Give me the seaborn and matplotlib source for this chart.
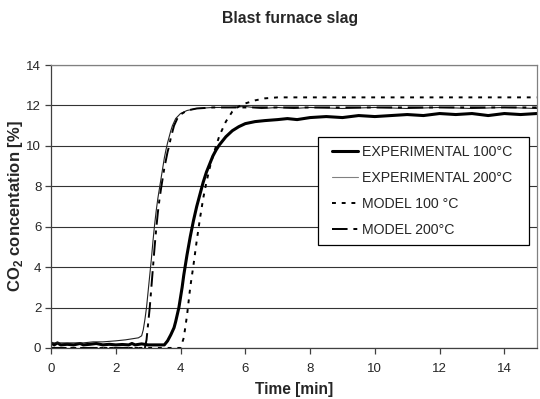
import matplotlib
matplotlib.use("Agg")
import matplotlib.pyplot as plt
from matplotlib.legend_handler import HandlerLine2D
import seaborn as sns
import pandas as pd

# Experimental breakthrough curve, 100 °C
exp100_time = [0.0, 0.1, 0.2, 0.3, 0.5, 0.7, 0.9, 1.0, 1.2, 1.4, 1.6, 1.8, 2.0, 2.2, 2.4, 2.5,
               2.6, 2.8, 3.0, 3.2, 3.4, 3.5, 3.6, 3.7, 3.8, 3.85, 3.9, 3.95, 4.0, 4.05, 4.1, 4.15,
               4.2, 4.3, 4.4, 4.5, 4.6, 4.7, 4.8, 4.9, 5.0, 5.1, 5.2, 5.4, 5.6, 5.8, 6.0, 6.3,
               6.6, 7.0, 7.3, 7.6, 8.0, 8.5, 9.0, 9.5, 10.0, 10.5, 11.0, 11.5, 12.0, 12.5, 13.0,
               13.5, 14.0, 14.5, 15.0]
exp100_conc = [0.25, 0.15, 0.25, 0.15, 0.18, 0.15, 0.22, 0.15, 0.18, 0.22, 0.15, 0.18, 0.15, 0.17, 0.15, 0.22,
               0.15, 0.2, 0.15, 0.15, 0.15, 0.15, 0.35, 0.65, 1.0, 1.3, 1.65, 2.0, 2.5, 3.0, 3.6, 4.1,
               4.6, 5.5, 6.3, 7.0, 7.6, 8.2, 8.7, 9.1, 9.5, 9.8, 10.05, 10.45, 10.75, 10.95, 11.1, 11.2,
               11.25, 11.3, 11.35, 11.3, 11.4, 11.45, 11.4, 11.5, 11.45, 11.5, 11.55, 11.5, 11.6, 11.55, 11.6,
               11.5, 11.6, 11.55, 11.6]

# Experimental breakthrough curve, 200 °C
exp200_time = [0.0, 0.3, 0.6, 1.0, 1.3, 1.6, 2.0, 2.3, 2.5, 2.7, 2.8, 2.85, 2.9, 2.95, 3.0, 3.05,
               3.1, 3.15, 3.2, 3.25, 3.3, 3.35, 3.4, 3.45, 3.5, 3.55, 3.6, 3.65, 3.7, 3.75, 3.85,
               4.0, 4.2, 4.5, 5.0, 5.5, 6.0, 6.5, 7.0, 7.5, 8.0, 9.0, 10.0, 11.0, 12.0, 13.0, 14.0, 15.0]
exp200_conc = [0.25, 0.25, 0.25, 0.25, 0.3, 0.3, 0.35, 0.4, 0.45, 0.5, 0.6, 0.9, 1.4, 2.0, 2.8, 3.6,
               4.4, 5.3, 6.1, 6.8, 7.4, 7.9, 8.4, 8.9, 9.4, 9.8, 10.15, 10.45, 10.75, 11.0, 11.35,
               11.6, 11.75, 11.85, 11.9, 11.9, 11.95, 11.85, 11.9, 11.85, 11.9, 11.85, 11.9, 11.85, 11.9,
               11.85, 11.9, 11.85]

# Model curve, 100 °C
mod100_time = [0.0, 4.0, 4.1, 4.2, 4.3, 4.4, 4.5, 4.6, 4.7, 4.8, 4.9, 5.0, 5.1, 5.2, 5.4, 5.6,
               5.8, 6.0, 6.3, 6.6, 7.0, 8.0, 10.0, 15.0]
mod100_conc = [0.0, 0.0, 0.5, 1.6, 3.0, 4.1, 5.3, 6.4, 7.4, 8.2, 8.9, 9.5, 10.0, 10.5, 11.2, 11.7,
               11.95, 12.1, 12.25, 12.35, 12.4, 12.4, 12.4, 12.4]

# Model curve, 200 °C
mod200_time = [0.0, 2.9, 2.95, 3.0, 3.05, 3.1, 3.15, 3.2, 3.25, 3.3, 3.35, 3.4, 3.45, 3.5, 3.55, 3.6,
               3.65, 3.7, 3.75, 3.8, 3.9, 4.0, 4.2, 4.5, 5.0, 6.0, 8.0, 15.0]
mod200_conc = [0.0, 0.0, 0.4, 1.2, 2.0, 3.0, 4.0, 5.0, 5.9, 6.7, 7.35, 7.9, 8.4, 8.9, 9.3, 9.7,
               10.0, 10.4, 10.7, 11.0, 11.35, 11.55, 11.75, 11.85, 11.9, 11.9, 11.9, 11.9]

labels = ["EXPERIMENTAL 100°C", "EXPERIMENTAL 200°C", "MODEL 100 °C", "MODEL 200°C"]

frames = []
for lab, t, c in zip(labels,
                     [exp100_time, exp200_time, mod100_time, mod200_time],
                     [exp100_conc, exp200_conc, mod100_conc, mod200_conc]):
    frames.append(pd.DataFrame({"time": t, "conc": c, "series": lab}))
df = pd.concat(frames, ignore_index=True)

sns.set_style("white")
plt.rcParams["font.family"] = ["Liberation Sans", "DejaVu Sans"]
plt.rcParams["mathtext.fontset"] = "custom"
plt.rcParams["mathtext.rm"] = "Liberation Sans"
plt.rcParams["mathtext.bf"] = "Liberation Sans:bold"

fig = plt.figure(figsize=(5.40, 3.99), dpi=100)
ax = fig.add_axes([0.0944, 0.128, 0.8996, 0.709])

styles = {
    labels[0]: dict(color="black", linewidth=2.2, linestyle="-"),
    labels[1]: dict(color="#222222", linewidth=0.8, linestyle="-"),
    labels[2]: dict(color="black", linewidth=1.4, linestyle=(0, (2, 3))),
    labels[3]: dict(color="black", linewidth=1.4, linestyle=(0, (8, 3, 2, 3))),
}

for lab in labels:
    sub = df[df["series"] == lab]
    sns.lineplot(data=sub, x="time", y="conc", ax=ax, label=lab,
                 estimator=None, sort=False, **styles[lab])

ax.set_xlim(0, 15)
ax.set_ylim(0, 14)
ax.set_xticks(range(0, 15, 2))
ax.set_yticks(range(0, 15, 2))
ax.yaxis.grid(True, color="#333333", linewidth=0.8)
ax.xaxis.grid(False)
ax.set_axisbelow(True)

for side in ["top", "right"]:
    ax.spines[side].set_color("#808080")
    ax.spines[side].set_linewidth(0.9)
for side in ["left", "bottom"]:
    ax.spines[side].set_color("#404040")
    ax.spines[side].set_linewidth(0.9)

ax.tick_params(axis="both", direction="out", length=4, width=0.9, color="#404040",
               labelsize=9.5, bottom=True, left=True)
ax.tick_params(axis="x", pad=7)
ax.tick_params(axis="y", pad=3)

ax.set_xlabel("Time [min]", fontsize=11.2, fontweight="bold", labelpad=5)
ax.set_ylabel(r"CO$_\mathbf{2}$ concentation [%]", fontsize=12, fontweight="bold", labelpad=1)
fig.suptitle("Blast furnace slag", x=0.537, y=0.972, fontsize=11.3, fontweight="bold")

handles, leg_labels = ax.get_legend_handles_labels()
leg = ax.legend(handles, leg_labels, loc="upper left",
                bbox_to_anchor=(0.549, 0.0, 0.434, 0.746), mode="expand", borderaxespad=0,
                frameon=True, fancybox=False, framealpha=1, edgecolor="black",
                fontsize=10.2, handlelength=2.3, handletextpad=0.3, labelspacing=0.85,
                borderpad=0.55,
                handler_map={h: HandlerLine2D(xpad=0.45) for h in handles})
leg.get_frame().set_linewidth(0.9)
leg.get_lines()[1].set_color("#808080")

fig.savefig("out.png", dpi=100)
